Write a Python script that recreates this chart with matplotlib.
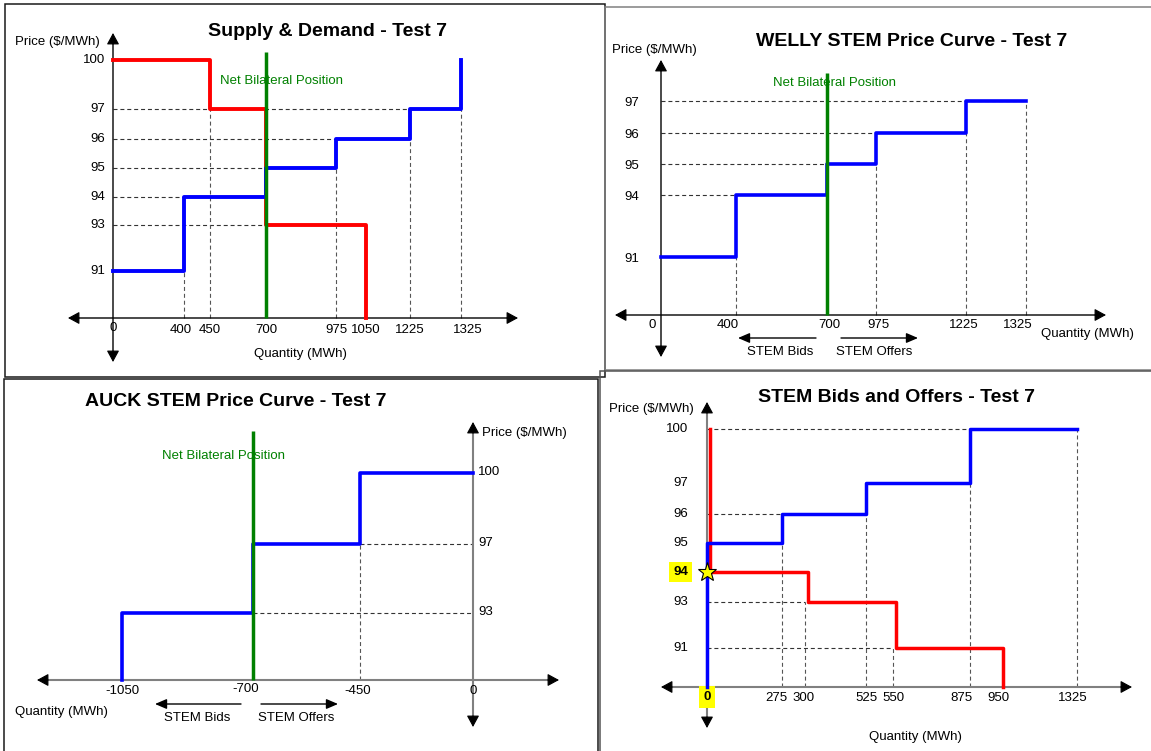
import numpy as np
import matplotlib
matplotlib.use("Agg")
import matplotlib.pyplot as plt
from matplotlib import transforms
from matplotlib.patches import Rectangle

plt.rcParams['font.family'] = ['Liberation Sans', 'DejaVu Sans']

# ------------------------------------------------------------------ data
PRICE_FLOOR = 89          # price level where the (broken) price axis meets the quantity axis

# Supply & Demand - Test 7
sd_demand_qty = [0, 450, 700, 1050]
sd_demand_price = [100, 97, 93]
sd_supply_qty = [0, 400, 700, 975, 1225, 1325]
sd_supply_price = [91, 94, 95, 96, 97]
sd_supply_cap = 100
sd_x_ticks = [0, 400, 450, 700, 975, 1050, 1225, 1325]
sd_y_ticks = [91, 93, 94, 95, 96, 97, 100]
sd_hguides = [(97, 0, 1325), (96, 0, 1225), (95, 0, 975), (94, 0, 700), (93, 0, 700)]
sd_vguides = [(400, 91), (450, 97), (975, 95), (1225, 96), (1325, 97)]
net_bilateral_welly = 700

# WELLY STEM Price Curve - Test 7
welly_qty = [0, 400, 700, 975, 1225, 1325]
welly_price = [91, 94, 95, 96, 97]
welly_x_ticks = [0, 400, 700, 975, 1225, 1325]
welly_y_ticks = [91, 94, 95, 96, 97]
welly_hguides = [(97, 0, 1325), (96, 0, 975), (95, 0, 700), (94, 0, 400)]
welly_vguides = [(400, 91), (975, 95), (1225, 96), (1325, 97)]

# AUCK STEM Price Curve - Test 7
auck_qty = [-1050, -700, -450, 0]
auck_price = [93, 97, 100]
auck_x_ticks = [-1050, -700, -450, 0]
auck_y_ticks = [93, 97, 100]
auck_hguides = [(97, -450, 0), (93, -700, 0)]
auck_vguides = [(-450, 97)]
net_bilateral_auck = -700

# STEM Bids and Offers - Test 7
offer_qty = [0, 275, 525, 875, 1325]
offer_price = [95, 96, 97, 100]
bid_qty = [0, 300, 550, 950]
bid_price = [94, 93, 91]
bid_cap = 100
clearing_qty, clearing_price = 0, 94
bo_x_ticks = [0, 275, 300, 525, 550, 875, 950, 1325]
bo_y_ticks = [91, 93, 94, 95, 96, 97, 100]
bo_hguides = [(100, 0, 1325), (96, 0, 275), (93, 0, 300), (91, 0, 550)]
bo_vguides = [(275, 95), (300, 93), (525, 96), (550, 91), (875, 97), (1325, 100)]

# ------------------------------------------------------------------ layout (pixels)
W, H = 1151, 751
fig = plt.figure(figsize=(W / 100, H / 100), dpi=100)
fig.patch.set_facecolor('white')

BLUE, RED, GREEN = '#0000FF', '#FF0000', '#008000'
GUIDE = '#333333'
DASH = (0, (3.6, 2.6))


def pw(src, dst):
    src = np.asarray(src, float)
    dst = np.asarray(dst, float)

    def f(v):
        v = np.asarray(v, float)
        out = np.interp(v, src, dst)
        lo_s = (dst[1] - dst[0]) / (src[1] - src[0])
        hi_s = (dst[-1] - dst[-2]) / (src[-1] - src[-2])
        out = np.where(v < src[0], dst[0] + (v - src[0]) * lo_s, out)
        out = np.where(v > src[-1], dst[-1] + (v - src[-1]) * hi_s, out)
        return out
    return f


def make_axes(box, xmap, ymap):
    L, T, R, B = box
    ax = fig.add_axes([L / W, 1 - B / H, (R - L) / W, (B - T) / H])
    xv = sorted(xmap)
    xp = [xmap[v] for v in xv]
    yv = sorted(ymap)
    yp = [-ymap[v] for v in yv]
    fx, fxi = pw(xv, xp), pw(xp, xv)
    fy, fyi = pw(yv, yp), pw(yp, yv)
    ax.set_xscale('function', functions=(fx, fxi))
    ax.set_yscale('function', functions=(fy, fyi))
    ax.axis('off')
    lims = (float(fxi(L)), float(fxi(R)), float(fyi(-B)), float(fyi(-T)))
    return ax, lims


def finish(ax, lims):
    ax.set_xlim(lims[0], lims[1])
    ax.set_ylim(lims[2], lims[3])


def ftext(ax, x, y, s, **kw):
    return ax.text(x / W, 1 - y / H, s, transform=fig.transFigure, **kw)


def otext(ax, x, y, s, dx=0, dy=0, **kw):
    tr = transforms.offset_copy(ax.transData, fig=fig, x=dx, y=-dy, units='dots')
    return ax.text(x, y, s, transform=tr, **kw)


def arrow(ax, p0, p1, color='black', lw=1.0, head=True, hl=0.7, hw=0.38):
    style = '-|>,head_length=%g,head_width=%g' % (hl, hw) if head else '-'
    ax.annotate('', xy=(p1[0], H - p1[1]), xytext=(p0[0], H - p0[1]),
                xycoords='figure pixels', textcoords='figure pixels',
                arrowprops=dict(arrowstyle=style, color=color, lw=lw,
                                shrinkA=0, shrinkB=0, mutation_scale=10))


def axes_arrows(ax, box, x0, y0, color, lw):
    L, T, R, B = box
    arrow(ax, (L + 4, y0), (R - 4, y0), color=color, lw=lw, head=False)
    arrow(ax, (x0, T + 4), (x0, B - 4), color=color, lw=lw, head=False)
    for tip, d in [((L, y0), (-1, 0)), ((R, y0), (1, 0)), ((x0, T), (0, -1)), ((x0, B), (0, 1))]:
        arrow(ax, (tip[0] - 11 * d[0], tip[1] - 11 * d[1]), tip, color='black', lw=0.8)


def steps(q, p):
    xs, ys = [q[0]], [p[0]]
    for i in range(len(p)):
        xs.append(q[i + 1]); ys.append(p[i])
        if i + 1 < len(p):
            xs.append(q[i + 1]); ys.append(p[i + 1])
    return xs, ys


def guides(ax, hg, vg):
    for y, x0, x1 in hg:
        ax.hlines(y, x0, x1, colors=GUIDE, linestyles=[DASH], lw=0.8, zorder=2)
    for x, y in vg:
        ax.vlines(x, PRICE_FLOOR, y, colors='#555555', linestyles=[DASH], lw=0.8, zorder=2)


def green_line(ax, box, x, top_px, axis_px):
    L, T, R, B = box
    ax.axvline(x, ymin=(B - axis_px) / (B - T), ymax=(B - top_px) / (B - T),
               color=GREEN, lw=2.5, zorder=6, solid_capstyle='butt')


TICK_FS = 9.5
LAB_FS = 9.5
TITLE_FS = 14

# ------------------------------------------------------------------ frames
def frame(x0, y0, x1, y1, color, lw=1.0):
    fig.add_artist(Rectangle((x0 / W, 1 - y1 / H), (x1 - x0) / W, (y1 - y0) / H,
                             transform=fig.transFigure, fill=False, ec=color, lw=lw))

frame(5, 4, 605, 377, '#1a1a1a', 1.1)
frame(605, 7, 1165, 370, '#808080', 1.1)
frame(4, 379, 598, 770, '#1a1a1a', 1.1)
frame(600, 371, 1165, 770, '#555555', 1.1)

# ------------------------------------------------------------------ panel 1: Supply & Demand
box1 = (68, 33, 518, 362)
x1map = {0: 113, 400: 184, 450: 210, 700: 266, 975: 336, 1050: 366, 1225: 410, 1325: 461}
y1map = {PRICE_FLOOR: 318, 91: 271, 93: 225, 94: 197, 95: 168, 96: 139, 97: 109, 100: 60}
x1lab_dx = {400: -3, 1325: 7}
ax1, lim1 = make_axes(box1, x1map, y1map)
axes_arrows(ax1, box1, x1map[0], y1map[PRICE_FLOOR], 'black', 1.0)
guides(ax1, sd_hguides, sd_vguides)
dx_, dy_ = steps(sd_demand_qty, sd_demand_price)
ax1.plot(dx_ + [sd_demand_qty[-1]], dy_ + [PRICE_FLOOR], color=RED, lw=2.8, zorder=4, clip_on=False)
sx_, sy_ = steps(sd_supply_qty, sd_supply_price)
ax1.plot(sx_ + [sd_supply_qty[-1]], sy_ + [sd_supply_cap], color=BLUE, lw=2.8, zorder=4, clip_on=False)
green_line(ax1, box1, net_bilateral_welly, 52, y1map[PRICE_FLOOR])
for v in sd_x_ticks:
    otext(ax1, v, PRICE_FLOOR, str(v), dx=x1lab_dx.get(v, 0), dy=12 if v else 10,
          ha='center', va='center', fontsize=TICK_FS)
for v in sd_y_ticks:
    otext(ax1, 0, v, str(v), dx=-8, ha='right', va='center', fontsize=TICK_FS)
ftext(ax1, 327, 31, 'Supply & Demand - Test 7', ha='center', va='center', fontsize=TITLE_FS, fontweight='bold')
ftext(ax1, 15, 42, 'Price ($/MWh)', ha='left', va='center', fontsize=LAB_FS)
ftext(ax1, 300, 354, 'Quantity (MWh)', ha='center', va='center', fontsize=LAB_FS)
ftext(ax1, 220, 81, 'Net Bilateral Position', ha='left', va='center', fontsize=LAB_FS, color=GREEN, zorder=1)
finish(ax1, lim1)

# ------------------------------------------------------------------ panel 2: WELLY
box2 = (615, 60, 1106, 357)
x2map = {0: 661, 400: 736, 700: 827, 975: 876, 1225: 966, 1325: 1026}
y2map = {PRICE_FLOOR: 315, 91: 257, 94: 195, 95: 164, 96: 133, 97: 101}
x2lab_dx = {0: -9, 400: -8, 700: 2, 975: 2, 1225: -2, 1325: -8}
ax2, lim2 = make_axes(box2, x2map, y2map)
axes_arrows(ax2, box2, x2map[0], y2map[PRICE_FLOOR], 'black', 1.0)
guides(ax2, welly_hguides, welly_vguides)
wx, wy = steps(welly_qty, welly_price)
ax2.plot(wx, wy, color=BLUE, lw=2.6, zorder=4, clip_on=False)
green_line(ax2, box2, net_bilateral_welly, 73, y2map[PRICE_FLOOR])
for v in welly_x_ticks:
    otext(ax2, v, PRICE_FLOOR, str(v), dx=x2lab_dx.get(v, 0), dy=10, ha='center', va='center', fontsize=TICK_FS)
for v in welly_y_ticks:
    otext(ax2, 0, v, str(v), dx=-22, dy=2, ha='right', va='center', fontsize=TICK_FS)
ftext(ax2, 912, 42, 'WELLY STEM Price Curve - Test 7', ha='center', va='center', fontsize=TITLE_FS, fontweight='bold')
ftext(ax2, 612, 50, 'Price ($/MWh)', ha='left', va='center', fontsize=LAB_FS)
ftext(ax2, 1041, 334, 'Quantity (MWh)', ha='left', va='center', fontsize=LAB_FS)
ftext(ax2, 773, 83, 'Net Bilateral Position', ha='left', va='center', fontsize=LAB_FS, color=GREEN, zorder=1)
arrow(ax2, (816, 338), (738, 338), lw=1.0, hl=0.7, hw=0.3)
arrow(ax2, (841, 338), (918, 338), lw=1.0, hl=0.7, hw=0.3)
ftext(ax2, 780, 352, 'STEM Bids', ha='center', va='center', fontsize=LAB_FS)
ftext(ax2, 874, 352, 'STEM Offers', ha='center', va='center', fontsize=LAB_FS)
finish(ax2, lim2)

# ------------------------------------------------------------------ panel 3: AUCK
box3 = (37, 422, 559, 727)
x3map = {-1050: 122, -700: 253, -450: 360, 0: 473}
y3map = {PRICE_FLOOR: 680, 93: 613, 97: 544, 100: 473}
x3lab_dx = {-700: -7, -450: -2}
ax3, lim3 = make_axes(box3, x3map, y3map)
axes_arrows(ax3, box3, x3map[0], y3map[PRICE_FLOOR], '#808080', 1.5)
guides(ax3, auck_hguides, auck_vguides)
ax_, ay_ = steps(auck_qty, auck_price)
ax3.plot([auck_qty[0]] + ax_, [PRICE_FLOOR] + ay_, color=BLUE, lw=2.6, zorder=4, clip_on=False)
green_line(ax3, box3, net_bilateral_auck, 431, y3map[PRICE_FLOOR])
for v in auck_x_ticks:
    otext(ax3, v, PRICE_FLOOR, str(v), dx=x3lab_dx.get(v, 0), dy=11 if v != -700 else 9,
          ha='center', va='center', fontsize=TICK_FS)
for v in auck_y_ticks:
    otext(ax3, 0, v, str(v), dx=5, dy=-1, ha='left', va='center', fontsize=TICK_FS)
ftext(ax3, 236, 402, 'AUCK STEM Price Curve - Test 7', ha='center', va='center', fontsize=TITLE_FS, fontweight='bold')
ftext(ax3, 482, 433, 'Price ($/MWh)', ha='left', va='center', fontsize=LAB_FS)
ftext(ax3, 15, 712, 'Quantity (MWh)', ha='left', va='center', fontsize=LAB_FS)
ftext(ax3, 162, 456, 'Net Bilateral Position', ha='left', va='center', fontsize=LAB_FS, color=GREEN, zorder=1)
arrow(ax3, (241, 704), (155, 704), lw=1.0, hl=0.7, hw=0.3)
arrow(ax3, (261, 704), (338, 704), lw=1.0, hl=0.7, hw=0.3)
ftext(ax3, 197, 718, 'STEM Bids', ha='center', va='center', fontsize=LAB_FS)
ftext(ax3, 296, 718, 'STEM Offers', ha='center', va='center', fontsize=LAB_FS)
finish(ax3, lim3)

# ------------------------------------------------------------------ panel 4: Bids and Offers
box4 = (661, 402, 1132, 728)
x4map = {0: 707, 275: 782, 300: 805, 525: 866, 550: 893, 875: 970, 950: 1000, 1325: 1077}
y4map = {PRICE_FLOOR: 687, 91: 648, 93: 602, 94: 572, 95: 543, 96: 514, 97: 483, 100: 429}
x4lab_dx = {275: -6, 300: -1, 875: -9, 950: -2, 1325: -4}
ax4, lim4 = make_axes(box4, x4map, y4map)
axes_arrows(ax4, box4, x4map[0], y4map[PRICE_FLOOR], '#808080', 1.5)
guides(ax4, bo_hguides, bo_vguides)
bx, by = steps(bid_qty, bid_price)
red_tr = transforms.offset_copy(ax4.transData, fig=fig, x=2.5, y=0, units='dots')
ax4.plot([bid_qty[0]] + bx + [bid_qty[-1]], [bid_cap] + by + [PRICE_FLOOR], color=RED, lw=2.5,
         zorder=4, transform=red_tr, clip_on=False)
ox, oy = steps(offer_qty, offer_price)
ax4.plot([offer_qty[0]] + ox, [PRICE_FLOOR] + oy, color=BLUE, lw=2.5, zorder=5, clip_on=False)
ax4.plot([clearing_qty], [clearing_price], marker='*', ms=14, mfc='#FFFF00', mec='black', mew=0.8,
         zorder=8, clip_on=False)
for v in bo_x_ticks:
    if v == clearing_qty:
        otext(ax4, v, PRICE_FLOOR, str(v), dy=10, ha='center', va='center', fontsize=TICK_FS,
              fontweight='bold', bbox=dict(boxstyle='square,pad=0.35', fc='#FFFF00', ec='none'))
    else:
        otext(ax4, v, PRICE_FLOOR, str(v), dx=x4lab_dx.get(v, 0), dy=11,
              ha='center', va='center', fontsize=TICK_FS)
for v in bo_y_ticks:
    if v == clearing_price:
        otext(ax4, 0, v, str(v), dx=-19, ha='right', va='center', fontsize=TICK_FS, fontweight='bold',
              bbox=dict(boxstyle='square,pad=0.3', fc='#FFFF00', ec='none'))
    else:
        otext(ax4, 0, v, str(v), dx=-19, ha='right', va='center', fontsize=TICK_FS)
ftext(ax4, 896, 397, 'STEM Bids and Offers - Test 7', ha='center', va='center', fontsize=TITLE_FS, fontweight='bold')
ftext(ax4, 609, 409, 'Price ($/MWh)', ha='left', va='center', fontsize=LAB_FS)
ftext(ax4, 915, 737, 'Quantity (MWh)', ha='center', va='center', fontsize=LAB_FS)
finish(ax4, lim4)

fig.savefig('out.png', dpi=100, facecolor='white')
